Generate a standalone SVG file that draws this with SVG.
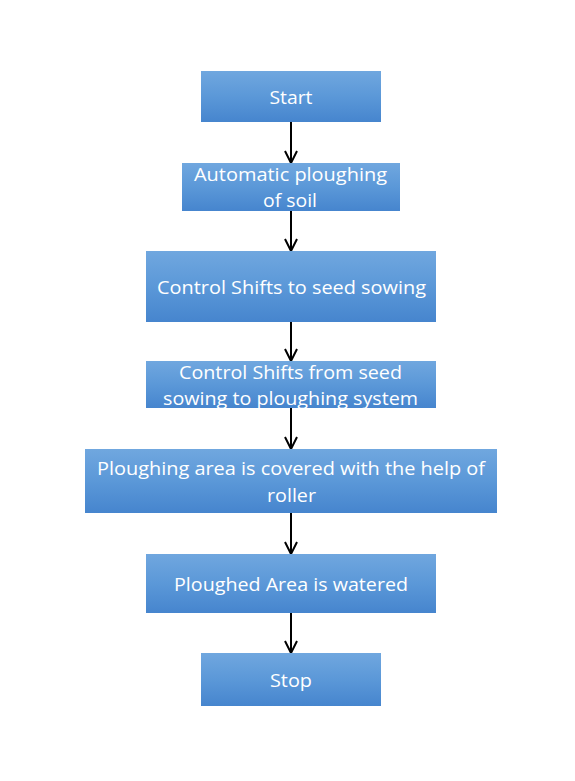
<svg xmlns="http://www.w3.org/2000/svg" width="575" height="781" viewBox="0 0 575 781">
<defs>
<linearGradient id="g" x1="0" y1="0" x2="0" y2="1">
<stop offset="0" stop-color="#70a7df"/>
<stop offset="0.5" stop-color="#5b98d8"/>
<stop offset="1" stop-color="#4685ce"/>
</linearGradient>
<marker id="ah" markerWidth="14" markerHeight="14" viewBox="0 0 14 14" refX="13" refY="7" orient="auto" markerUnits="userSpaceOnUse">
<path d="M1 1 L13 7 L1 13" fill="none" stroke="#000" stroke-width="2"/>
</marker>
<style>
.box{fill:url(#g);}
.t{font-family:"Open Sans","Noto Sans","Liberation Sans",sans-serif;font-size:19px;fill:#fff;text-anchor:middle;}
.c line{stroke:#000;stroke-width:2;}
</style>
</defs>
<rect width="575" height="781" fill="#fff"/>
<g class="c" id="connectors">
<line x1="291" y1="122" x2="291" y2="163" marker-end="url(#ah)"/>
<line x1="291" y1="211" x2="291" y2="251" marker-end="url(#ah)"/>
<line x1="291" y1="322" x2="291" y2="361" marker-end="url(#ah)"/>
<line x1="291" y1="408" x2="291" y2="449" marker-end="url(#ah)"/>
<line x1="291" y1="513" x2="291" y2="554" marker-end="url(#ah)"/>
<line x1="291" y1="613" x2="291" y2="653" marker-end="url(#ah)"/>
</g>
<g id="n1"><rect class="box" x="201" y="71" width="180" height="51"/>
<text class="t" x="291" y="103.5" textLength="43" lengthAdjust="spacingAndGlyphs">Start</text></g>
<g id="n2"><rect class="box" x="182" y="163" width="218" height="48"/>
<text class="t" x="290.5" y="181" textLength="193" lengthAdjust="spacingAndGlyphs">Automatic ploughing</text>
<text class="t" x="290" y="207" textLength="54" lengthAdjust="spacingAndGlyphs">of soil</text></g>
<g id="n3"><rect class="box" x="146" y="251" width="290" height="71"/>
<text class="t" x="291.5" y="293.5" textLength="269" lengthAdjust="spacingAndGlyphs">Control Shifts to seed sowing</text></g>
<g id="n4"><rect class="box" x="146" y="361" width="290" height="47"/>
<text class="t" x="290.5" y="378.5" textLength="223" lengthAdjust="spacingAndGlyphs">Control Shifts from seed</text>
<text class="t" x="290.5" y="405" textLength="255" lengthAdjust="spacingAndGlyphs">sowing to ploughing system</text></g>
<g id="n5"><rect class="box" x="85" y="449" width="412" height="64"/>
<text class="t" x="291" y="475" textLength="388" lengthAdjust="spacingAndGlyphs">Ploughing area is covered with the help of</text>
<text class="t" x="291.5" y="501.5" textLength="49" lengthAdjust="spacingAndGlyphs">roller</text></g>
<g id="n6"><rect class="box" x="146" y="554" width="290" height="59"/>
<text class="t" x="291" y="590.5" textLength="234" lengthAdjust="spacingAndGlyphs">Ploughed Area is watered</text></g>
<g id="n7"><rect class="box" x="201" y="653" width="180" height="53"/>
<text class="t" x="291" y="686.5" textLength="42" lengthAdjust="spacingAndGlyphs">Stop</text></g>
</svg>
